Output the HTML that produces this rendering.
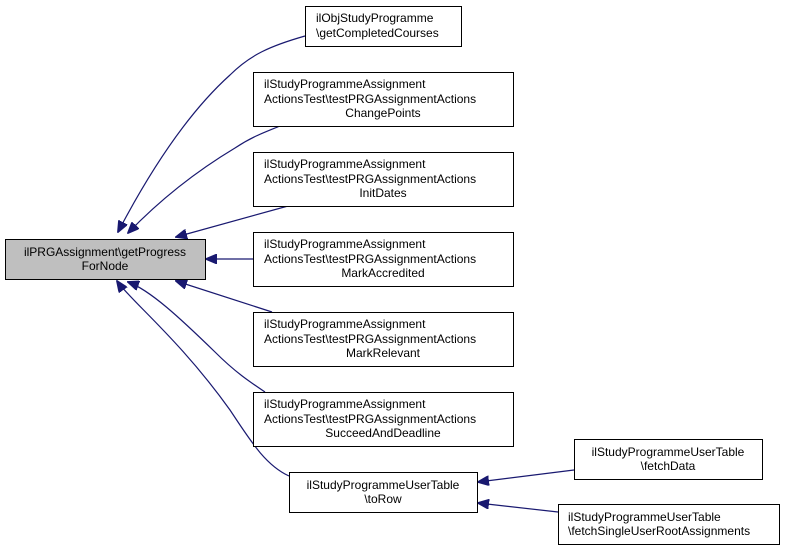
<!DOCTYPE html>
<html><head><style>
body{margin:0;background:#fff;}
svg text{font-family:"Liberation Sans",sans-serif;font-size:12px;fill:#000;}
</style></head><body>
<svg width="789" height="551" viewBox="0 0 789 551" xmlns="http://www.w3.org/2000/svg">
<defs><marker id="a" markerWidth="12" markerHeight="10" refX="11" refY="5" orient="auto" markerUnits="userSpaceOnUse"><path d="M0,0 L12,5 L0,10 Z" fill="#191970" stroke="#191970"/></marker></defs>
<g fill="none" stroke="#191970" stroke-width="1.2">
<path d="M305,36 C270,46 250,55 230,75 C180,120 140,190 118,232" marker-end="url(#a)"/>
<path d="M280,126 C260,134 250,138 235,148 C190,175 155,205 128,233" marker-end="url(#a)"/>
<path d="M288,206 L176,237" marker-end="url(#a)"/>
<path d="M253,259 L206,259" marker-end="url(#a)"/>
<path d="M272,312 L176,281" marker-end="url(#a)"/>
<path d="M265,392 C250,382 235,372 215,352 C180,318 150,290 128,282" marker-end="url(#a)"/>
<path d="M289,476 C265,465 250,440 230,410 C180,340 130,300 117,281" marker-end="url(#a)"/>
<path d="M574,470 L478,482" marker-end="url(#a)"/>
<path d="M558,512 L478,503" marker-end="url(#a)"/>
</g>
<g stroke="#000" stroke-width="1" fill="#fff">
<rect x="5.5" y="239.5" width="200" height="40" fill="#bfbfbf"/>
<rect x="305.5" y="6.5" width="156" height="40"/>
<rect x="253.5" y="72.5" width="260" height="54"/>
<rect x="253.5" y="152.5" width="260" height="54"/>
<rect x="253.5" y="232.5" width="260" height="54"/>
<rect x="253.5" y="312.5" width="260" height="54"/>
<rect x="253.5" y="392.5" width="260" height="54"/>
<rect x="289.5" y="472.5" width="188" height="40"/>
<rect x="574.5" y="439.5" width="188" height="40"/>
<rect x="558.5" y="504.5" width="221" height="40"/>
</g>
<text x="105" y="256" text-anchor="middle">ilPRGAssignment\getProgress</text>
<text x="105" y="270" text-anchor="middle">ForNode</text>
<text x="316" y="22">ilObjStudyProgramme</text>
<text x="316" y="37">\getCompletedCourses</text>
<g>
<text x="264" y="88">ilStudyProgrammeAssignment</text><text x="264" y="103">ActionsTest\testPRGAssignmentActions</text><text x="383" y="117" text-anchor="middle">ChangePoints</text>
<text x="264" y="168">ilStudyProgrammeAssignment</text><text x="264" y="183">ActionsTest\testPRGAssignmentActions</text><text x="383" y="197" text-anchor="middle">InitDates</text>
<text x="264" y="248">ilStudyProgrammeAssignment</text><text x="264" y="263">ActionsTest\testPRGAssignmentActions</text><text x="383" y="277" text-anchor="middle">MarkAccredited</text>
<text x="264" y="328">ilStudyProgrammeAssignment</text><text x="264" y="343">ActionsTest\testPRGAssignmentActions</text><text x="383" y="357" text-anchor="middle">MarkRelevant</text>
<text x="264" y="408">ilStudyProgrammeAssignment</text><text x="264" y="423">ActionsTest\testPRGAssignmentActions</text><text x="383" y="437" text-anchor="middle">SucceedAndDeadline</text>
</g>
<text x="383" y="489" text-anchor="middle">ilStudyProgrammeUserTable</text>
<text x="383" y="503" text-anchor="middle">\toRow</text>
<text x="668" y="456" text-anchor="middle">ilStudyProgrammeUserTable</text>
<text x="668" y="470" text-anchor="middle">\fetchData</text>
<text x="568" y="521">ilStudyProgrammeUserTable</text>
<text x="568" y="535">\fetchSingleUserRootAssignments</text>
</svg>
</body></html>
